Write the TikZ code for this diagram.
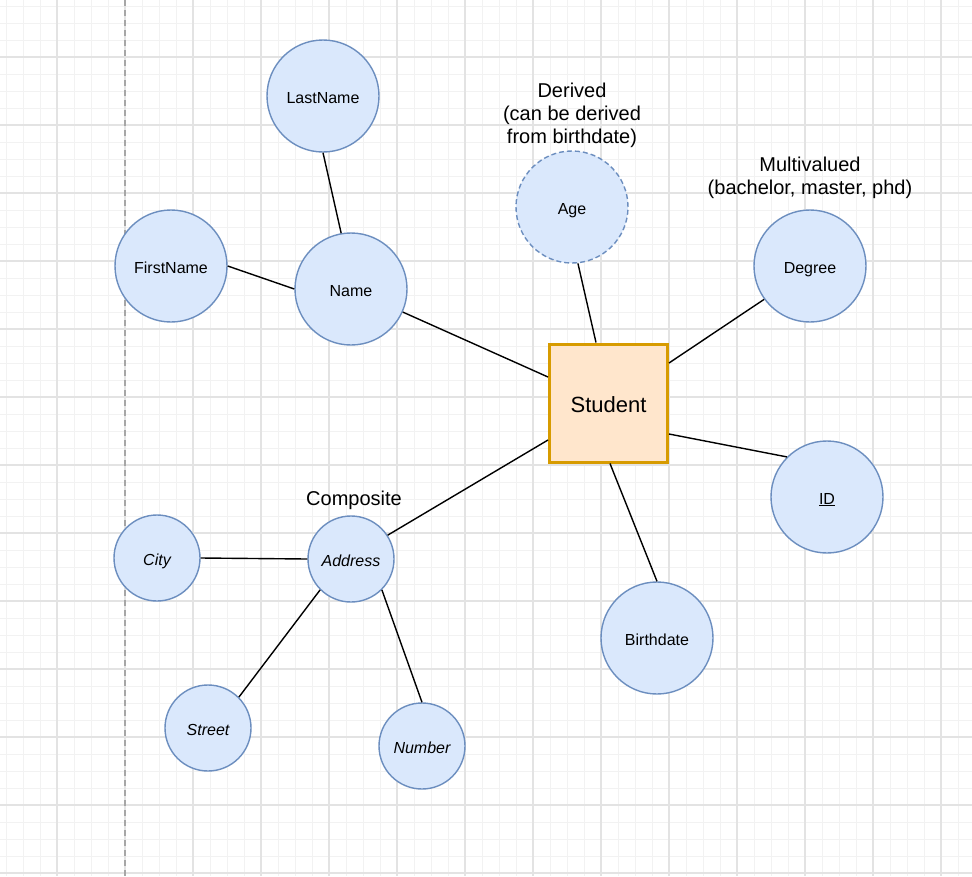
\documentclass[tikz,border=0pt]{standalone}
\usepackage{fontspec}
\setmainfont{Liberation Sans}
\usepackage{tikz}
\usetikzlibrary{calc,backgrounds}
\definecolor{attrfill}{HTML}{DAE8FC}
\definecolor{attrline}{HTML}{6C8EBF}
\definecolor{entfill}{HTML}{FFE6CC}
\definecolor{entline}{HTML}{D79B00}
\tikzstyle{attribute} = [circle, draw=attrline, fill=attrfill, line width=1.4pt,
    minimum size=112pt, inner sep=0pt, text height=14pt, text depth=0pt,
    font=\fontsize{16}{19}\selectfont]
\tikzstyle{subattr} = [attribute, minimum size=86pt, font=\fontsize{16}{19}\selectfont\itshape]
\tikzstyle{entity} = [rectangle, draw=entline, fill=entfill, line width=3pt,
    minimum size=118pt, inner sep=0pt, text height=18pt, text depth=0pt,
    font=\fontsize{22}{26}\selectfont]
\tikzstyle{note} = [align=center, inner sep=0pt, font=\fontsize{20}{23}\selectfont]
\tikzstyle{line} = [draw, line width=1.4pt]
\tikzstyle{minorgrid} = [draw=black!5, line width=1pt]
\tikzstyle{majorgrid} = [draw=black!11, line width=1.2pt]

\begin{document}
\begin{tikzpicture}[x=1pt,y=-1pt]
    \useasboundingbox[fill=white] (0,0) rectangle (972,876);
    % Grid
    \foreach \g in {6,23,...,972} {
        \path [minorgrid] (\g,0) -- (\g,876);
        \path [minorgrid] (0,\g) -- (972,\g);
    }
    \foreach \g in {57,125,...,972} {
        \path [majorgrid] (\g,0) -- (\g,876);
        \path [majorgrid] (0,\g) -- (972,\g);
    }
    \draw [black!35, line width=1.4pt, dash pattern=on 6pt off 4pt] (125,0) -- (125,876);
    % Place nodes
    \node [entity] (student) at (608.5,403) {Student};
    \node [attribute] (name) at (351,289) {Name};
    \node [attribute] (lastname) at (323,96) {LastName};
    \node [attribute] (firstname) at (171,266) {FirstName};
    \node [attribute, dashed, dash pattern=on 5pt off 3pt] (age) at (572,207) {Age};
    \node [attribute] (degree) at (810,266) {Degree};
    \node [attribute] (id) at (827,497) {\underline{ID}};
    \node [attribute] (birthdate) at (657,638) {Birthdate};
    \node [subattr] (address) at (351,559) {Address};
    \node [subattr] (city) at (157,558) {City};
    \node [subattr] (street) at (208,728) {Street};
    \node [subattr] (number) at (422,746) {Number};
    % Annotations
    \node [note] (derived) at (572,115.5) {Derived\\(can be derived\\from birthdate)};
    \node [note] (multi) at (810,177.5) {Multivalued\\(bachelor, master, phd)};
    \node [note] (composite) at (354,500) {Composite};
    % Draw edges
    \path [line] (name.336) -- ([yshift=26pt]student.west);
    \path [line] (address.33) -- ([yshift=-37pt]student.west);
    \path [line] (age.276) -- ([xshift=-12.5pt]student.north);
    \path [line] (degree.216) -- ([yshift=40pt]student.east);
    \path [line] (id.135) -- ([yshift=-31pt]student.east);
    \path [line] (birthdate.north) -- ([xshift=1.5pt]student.south);
    \path [line] (lastname.south) -- (name.100);
    \path [line] (firstname.east) -- (name.west);
    \path [line] (city.east) -- (address.west);
    \path [line] (street.45) -- (address.225);
    \path [line] (number.north) -- (address.315);
\end{tikzpicture}
\end{document}
